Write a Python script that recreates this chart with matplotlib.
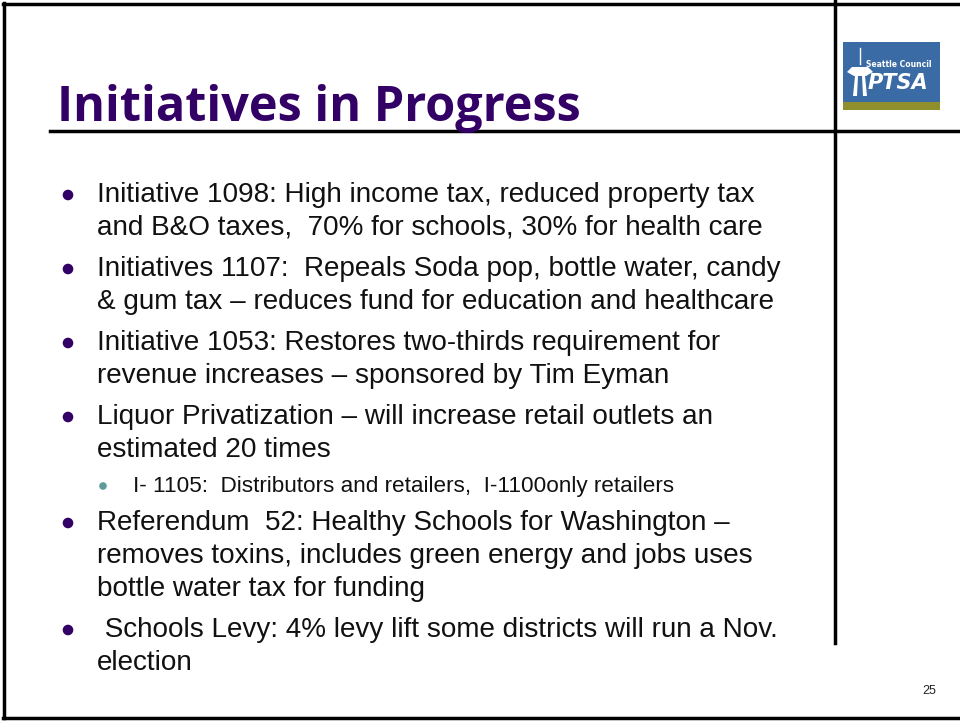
import matplotlib.pyplot as plt
from matplotlib.patches import Rectangle, Circle, Polygon

title = "Initiatives in Progress"
page_number = "25"

# bullet lines: (level, lines of text)
bullets = [
    (0, ["Initiative 1098: High income tax, reduced property tax",
         "and B&O taxes,  70% for schools, 30% for health care"]),
    (0, ["Initiatives 1107:  Repeals Soda pop, bottle water, candy",
         "& gum tax \u2013 reduces fund for education and healthcare"]),
    (0, ["Initiative 1053: Restores two-thirds requirement for",
         "revenue increases \u2013 sponsored by Tim Eyman"]),
    (0, ["Liquor Privatization \u2013 will increase retail outlets an",
         "estimated 20 times"]),
    (1, ["I- 1105:  Distributors and retailers,  I-1100only retailers"]),
    (0, ["Referendum  52: Healthy Schools for Washington \u2013",
         "removes toxins, includes green energy and jobs uses",
         "bottle water tax for funding"]),
    (0, [" Schools Levy: 4% levy lift some districts will run a Nov.",
         "election"]),
]

W, H = 960, 721
fig = plt.figure(figsize=(W / 100, H / 100), dpi=100)
ax = fig.add_axes([0, 0, 1, 1])
ax.set_xlim(0, W)
ax.set_ylim(H, 0)
ax.axis("off")

purple = "#330066"

# slide frame
ax.plot([4, 4], [3, 718], color="black", lw=2.5)
ax.plot([3, W], [4, 4], color="black", lw=2.5)
ax.plot([3, W], [718, 718], color="black", lw=2.5)
ax.plot([50, W], [131, 131], color="black", lw=2.5)
ax.plot([835, 835], [0, 643], color="black", lw=2.5)

# title
ax.text(57, 121, title, fontsize=35, fontweight="bold", color=purple,
        family="Open Sans", va="baseline", ha="left")

# logo
ax.add_patch(Rectangle((843, 42), 97, 61, facecolor="#3a6ba5", edgecolor="none"))
ax.add_patch(Rectangle((843, 102), 97, 8, facecolor="#8f8f2e", edgecolor="none"))
ax.text(866, 67, "Seattle Council", fontsize=5.5, fontweight="bold", color="white",
        family="DejaVu Sans", va="baseline")
ax.text(868, 89, "PTSA", fontsize=15, fontweight="bold", style="italic",
        color="white", family="DejaVu Sans", va="baseline")
# space needle silhouette
ax.plot([860, 860], [48, 64], color="white", lw=1)
ax.add_patch(Polygon([(847, 72), (852, 67), (868, 67), (873, 72), (866, 76), (854, 76)],
                     facecolor="white", edgecolor="none"))
ax.add_patch(Polygon([(855, 76), (858, 76), (857, 96), (853, 96)],
                     facecolor="white", edgecolor="none"))
ax.add_patch(Polygon([(862, 76), (865, 76), (867, 96), (863, 96)],
                     facecolor="white", edgecolor="none"))

# body
y = 202
for level, lines in bullets:
    if level == 0:
        ax.add_patch(Circle((68, y - 7), 5.3, facecolor=purple, edgecolor="none"))
        for ln in lines:
            ax.text(97, y, ln, fontsize=20.1, family="Liberation Sans",
                    color="#111111", va="baseline", ha="left")
            y += 33
        y += 8
    else:
        y -= 6
        ax.add_patch(Circle((103, y - 6), 3.8, facecolor="#5f9b98", edgecolor="none"))
        for ln in lines:
            ax.text(133, y, ln, fontsize=16.2, family="Liberation Sans",
                    color="#111111", va="baseline", ha="left")
            y += 33
        y += 5

ax.text(922, 694, page_number, fontsize=9, family="Liberation Sans",
        color="#222222", va="baseline", ha="left")

fig.savefig("out.png", dpi=100)
